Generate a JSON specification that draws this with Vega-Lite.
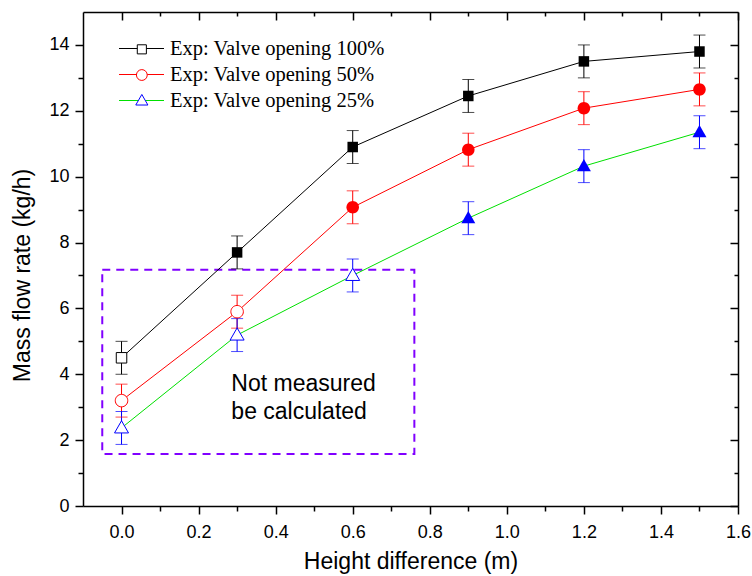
{
  "$schema": "https://vega.github.io/schema/vega-lite/v6.json",
  "width": 655,
  "height": 494,
  "autosize": "none",
  "padding": {"left": 83, "top": 12, "right": 14, "bottom": 70},
  "background": "white",
  "config": {
    "view": {"stroke": null},
    "axis": {
      "labelFont": "Liberation Sans",
      "titleFont": "Liberation Sans",
      "labelFontSize": 18,
      "titleFontSize": 23,
      "titleFontWeight": "normal",
      "labelColor": "black",
      "titleColor": "black",
      "domainColor": "black",
      "tickColor": "black",
      "domainWidth": 1.5,
      "tickWidth": 1.5,
      "grid": false
    }
  },
  "datasets": {
    "pts": [
      {"h": 0.0, "v": 4.5, "lo": 4.0, "hi": 5.0, "series": "Exp: Valve opening 100%", "opening": "100%", "filled": false},
      {"h": 0.3, "v": 7.7, "lo": 7.2, "hi": 8.2, "series": "Exp: Valve opening 100%", "opening": "100%", "filled": true},
      {"h": 0.6, "v": 10.9, "lo": 10.4, "hi": 11.4, "series": "Exp: Valve opening 100%", "opening": "100%", "filled": true},
      {"h": 0.9, "v": 12.45, "lo": 11.95, "hi": 12.95, "series": "Exp: Valve opening 100%", "opening": "100%", "filled": true},
      {"h": 1.2, "v": 13.5, "lo": 13.0, "hi": 14.0, "series": "Exp: Valve opening 100%", "opening": "100%", "filled": true},
      {"h": 1.5, "v": 13.8, "lo": 13.3, "hi": 14.3, "series": "Exp: Valve opening 100%", "opening": "100%", "filled": true},
      {"h": 0.0, "v": 3.2, "lo": 2.7, "hi": 3.7, "series": "Exp: Valve opening 50%", "opening": "50%", "filled": false},
      {"h": 0.3, "v": 5.9, "lo": 5.4, "hi": 6.4, "series": "Exp: Valve opening 50%", "opening": "50%", "filled": false},
      {"h": 0.6, "v": 9.07, "lo": 8.57, "hi": 9.57, "series": "Exp: Valve opening 50%", "opening": "50%", "filled": true},
      {"h": 0.9, "v": 10.82, "lo": 10.32, "hi": 11.32, "series": "Exp: Valve opening 50%", "opening": "50%", "filled": true},
      {"h": 1.2, "v": 12.08, "lo": 11.58, "hi": 12.58, "series": "Exp: Valve opening 50%", "opening": "50%", "filled": true},
      {"h": 1.5, "v": 12.65, "lo": 12.15, "hi": 13.15, "series": "Exp: Valve opening 50%", "opening": "50%", "filled": true},
      {"h": 0.0, "v": 2.37, "lo": 1.87, "hi": 2.87, "series": "Exp: Valve opening 25%", "opening": "25%", "filled": false},
      {"h": 0.3, "v": 5.19, "lo": 4.69, "hi": 5.69, "series": "Exp: Valve opening 25%", "opening": "25%", "filled": false},
      {"h": 0.6, "v": 7.0, "lo": 6.5, "hi": 7.5, "series": "Exp: Valve opening 25%", "opening": "25%", "filled": false},
      {"h": 0.9, "v": 8.74, "lo": 8.24, "hi": 9.24, "series": "Exp: Valve opening 25%", "opening": "25%", "filled": true},
      {"h": 1.2, "v": 10.32, "lo": 9.82, "hi": 10.82, "series": "Exp: Valve opening 25%", "opening": "25%", "filled": true},
      {"h": 1.5, "v": 11.35, "lo": 10.85, "hi": 11.85, "series": "Exp: Valve opening 25%", "opening": "25%", "filled": true}
    ],
    "box": [{"x1": -0.05, "x2": 0.76, "y1": 1.58, "y2": 7.17}],
    "note": [{"x": 0.285, "y": 3.49, "t": "Not measured\nbe calculated"}]
  },
  "resolve": {
    "axis": {"x": "independent", "y": "independent"},
    "scale": {"color": "independent", "shape": "independent"}
  },
  "layer": [
    {
      "data": {"name": "box"},
      "mark": {"type": "rect", "fill": null, "stroke": "#8000ff", "strokeWidth": 2, "strokeDash": [8, 6]},
      "encoding": {
        "x": {"field": "x1", "type": "quantitative", "scale": {"domain": [-0.1, 1.6], "nice": false, "zero": false}, "axis": null},
        "x2": {"field": "x2"},
        "y": {"field": "y1", "type": "quantitative", "scale": {"domain": [0, 15], "nice": false}, "axis": null},
        "y2": {"field": "y2"}
      }
    },
    {
      "data": {"name": "note"},
      "mark": {"type": "text", "font": "Liberation Sans", "fontSize": 23, "align": "left", "baseline": "alphabetic", "lineBreak": "\n", "lineHeight": 28, "color": "black"},
      "encoding": {
        "x": {"field": "x", "type": "quantitative", "axis": null},
        "y": {"field": "y", "type": "quantitative", "axis": null},
        "text": {"field": "t"}
      }
    },
    {
      "data": {"name": "pts"},
      "mark": {"type": "line", "strokeWidth": 1},
      "encoding": {
        "x": {"field": "h", "type": "quantitative", "title": "Height difference (m)",
          "axis": {"orient": "bottom", "values": [0, 0.1, 0.2, 0.3, 0.4, 0.5, 0.6, 0.7, 0.8, 0.9, 1.0, 1.1, 1.2, 1.3, 1.4, 1.5, 1.6],
            "labelExpr": "round(datum.value*10) % 2 == 0 ? format(datum.value, '.1f') : ''",
            "tickSize": {"condition": {"test": "round(datum.value*10) % 2 != 0", "value": 5}, "value": 8},
            "labelPadding": 9, "titlePadding": 9, "labelFlush": false, "labelOverlap": false}},
        "y": {"field": "v", "type": "quantitative", "title": "Mass flow rate (kg/h)",
          "axis": {"orient": "left", "values": [0, 1, 2, 3, 4, 5, 6, 7, 8, 9, 10, 11, 12, 13, 14],
            "labelExpr": "datum.value % 2 == 0 ? format(datum.value, 'd') : ''",
            "tickSize": {"condition": {"test": "datum.value % 2 != 0", "value": 5}, "value": 8},
            "labelPadding": 6, "titlePadding": 14, "titleY": 263, "labelOverlap": false}},
        "stroke": {"field": "series", "type": "nominal",
          "scale": {"domain": ["Exp: Valve opening 100%", "Exp: Valve opening 50%", "Exp: Valve opening 25%"], "range": ["#000000", "#ff0000", "#00e000"]},
          "legend": {"title": null, "orient": "none", "legendX": 48, "legendY": 26, "symbolType": "M-2.25,0H2.25", "symbolSize": 400, "symbolStrokeWidth": 1,
            "labelFont": "Liberation Serif", "labelFontSize": 20.5, "labelColor": "black", "labelOffset": 18, "rowPadding": 5, "padding": 0, "labelLimit": 400}}
      }
    },
    {
      "data": {"name": "pts"},
      "mark": {"type": "rule", "strokeWidth": 1},
      "encoding": {
        "x": {"field": "h", "type": "quantitative",
          "axis": {"orient": "top", "labels": false, "title": null, "values": [0, 0.1, 0.2, 0.3, 0.4, 0.5, 0.6, 0.7, 0.8, 0.9, 1.0, 1.1, 1.2, 1.3, 1.4, 1.5, 1.6],
            "tickSize": {"condition": {"test": "round(datum.value*10) % 2 != 0", "value": -4}, "value": -8}}},
        "y": {"field": "lo", "type": "quantitative",
          "axis": {"orient": "right", "labels": false, "title": null, "values": [0, 1, 2, 3, 4, 5, 6, 7, 8, 9, 10, 11, 12, 13, 14],
            "tickSize": {"condition": {"test": "datum.value % 2 != 0", "value": -4}, "value": -8}}},
        "y2": {"field": "hi"},
        "color": {"field": "opening", "type": "nominal", "scale": {"domain": ["100%", "50%", "25%"], "range": ["#000000", "#ff0000", "#0000ff"]}, "legend": null}
      }
    },
    {
      "data": {"name": "pts"},
      "mark": {"type": "tick", "orient": "horizontal", "size": 12, "thickness": 1},
      "encoding": {
        "x": {"field": "h", "type": "quantitative", "axis": null},
        "y": {"field": "lo", "type": "quantitative", "axis": null},
        "color": {"field": "opening", "type": "nominal", "scale": {"domain": ["100%", "50%", "25%"], "range": ["#000000", "#ff0000", "#0000ff"]}, "legend": null}
      }
    },
    {
      "data": {"name": "pts"},
      "mark": {"type": "tick", "orient": "horizontal", "size": 12, "thickness": 1},
      "encoding": {
        "x": {"field": "h", "type": "quantitative", "axis": null},
        "y": {"field": "hi", "type": "quantitative", "axis": null},
        "color": {"field": "opening", "type": "nominal", "scale": {"domain": ["100%", "50%", "25%"], "range": ["#000000", "#ff0000", "#0000ff"]}, "legend": null}
      }
    },
    {
      "data": {"name": "pts"},
      "transform": [{"filter": "!datum.filled"}],
      "mark": {"type": "point", "filled": false, "fill": "white", "strokeWidth": 1, "size": 400, "opacity": 1},
      "encoding": {
        "x": {"field": "h", "type": "quantitative", "axis": null},
        "y": {"field": "v", "type": "quantitative", "axis": null},
        "shape": {"field": "opening", "type": "nominal",
          "scale": {"domain": ["100%", "50%", "25%"], "range": ["M-0.525,-0.525H0.525V0.525H-0.525Z", "M0.625,0A0.625,0.625,0,1,1,-0.625,0A0.625,0.625,0,1,1,0.625,0Z", "M0,-0.72L0.7,0.5L-0.7,0.5Z"]},
          "legend": {"title": null, "orient": "none", "legendX": 49.34, "legendY": 27.84, "symbolSize": 300, "symbolStrokeWidth": 1,
            "labelExpr": "''", "labelFontSize": 1, "labelOffset": 0, "rowPadding": 8.68, "padding": 0}},
        "color": {"field": "opening", "type": "nominal",
          "scale": {"domain": ["100%", "50%", "25%"], "range": ["#000000", "#ff0000", "#0000ff"]},
          "legend": {"title": null, "orient": "none", "legendX": 49.34, "legendY": 27.84, "symbolSize": 300, "symbolStrokeWidth": 1,
            "labelExpr": "''", "labelFontSize": 1, "labelOffset": 0, "rowPadding": 8.68, "padding": 0}}
      }
    },
    {
      "data": {"name": "pts"},
      "transform": [{"filter": "datum.filled"}],
      "mark": {"type": "point", "filled": true, "size": 400, "opacity": 1},
      "encoding": {
        "x": {"field": "h", "type": "quantitative", "axis": null},
        "y": {"field": "v", "type": "quantitative", "axis": null},
        "shape": {"field": "opening", "type": "nominal",
          "scale": {"domain": ["100%", "50%", "25%"], "range": ["M-0.525,-0.525H0.525V0.525H-0.525Z", "M0.625,0A0.625,0.625,0,1,1,-0.625,0A0.625,0.625,0,1,1,0.625,0Z", "M0,-0.72L0.7,0.5L-0.7,0.5Z"]},
          "legend": null},
        "color": {"field": "opening", "type": "nominal", "scale": {"domain": ["100%", "50%", "25%"], "range": ["#000000", "#ff0000", "#0000ff"]}, "legend": null}
      }
    }
  ]
}
